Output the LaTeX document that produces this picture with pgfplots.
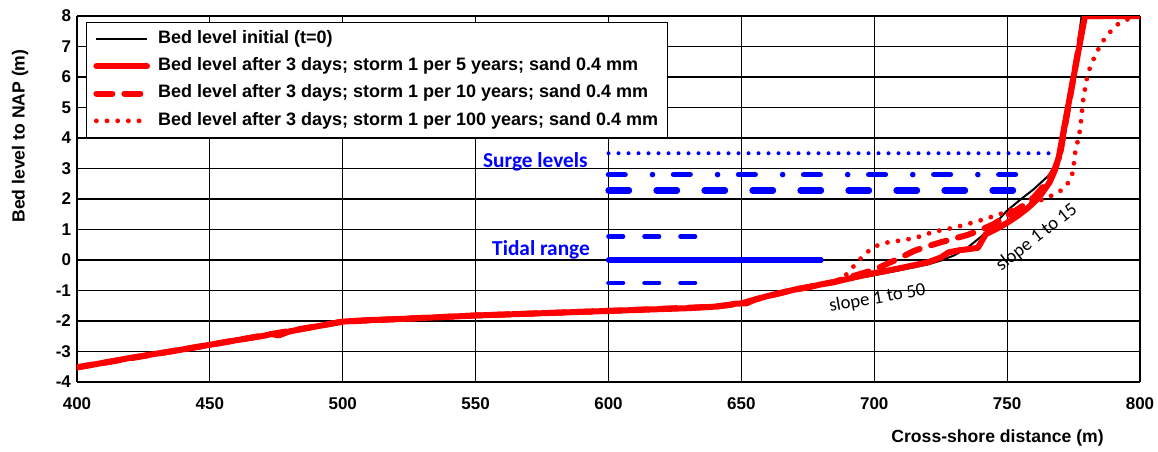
\documentclass[border=0pt]{standalone}
\usepackage{fontspec}
\setmainfont{Liberation Sans}
\newfontfamily\calibri{Carlito}
\usepackage{pgfplots}
\pgfplotsset{compat=1.18}
\definecolor{xlred}{RGB}{255,0,0}
\definecolor{xlblue}{RGB}{0,0,255}

% cross-shore bed profiles (x in m, bed level in m to NAP)
\pgfplotstableread{
x y
400 -3.52
410 -3.36
420 -3.20
430 -3.07
440 -2.92
450 -2.77
460 -2.62
470 -2.48
480 -2.33
490 -2.17
500 -2.02
510 -1.98
520 -1.94
530 -1.90
540 -1.86
550 -1.82
560 -1.79
570 -1.76
580 -1.73
590 -1.70
600 -1.67
610 -1.64
620 -1.61
630 -1.58
640 -1.54
645 -1.50
650 -1.42
655 -1.30
660 -1.15
665 -1.05
670 -0.97
680 -0.82
690 -0.66
700 -0.50
710 -0.33
720 -0.15
725 -0.02
730 0.15
735 0.40
740 0.75
745 1.15
750 1.62
755 1.98
760 2.32
765 2.72
768 3.00
770 3.30
772 4.20
774 5.40
776 6.60
778 8.00
800 8.00
}\initial

\pgfplotstableread{
x y
400 -3.52
410 -3.37
420 -3.21
430 -3.07
440 -2.93
450 -2.78
460 -2.63
470 -2.49
473 -2.43
476 -2.47
480 -2.34
490 -2.18
500 -2.02
510 -1.97
520 -1.94
530 -1.90
540 -1.86
550 -1.82
560 -1.79
570 -1.76
580 -1.73
590 -1.70
600 -1.67
610 -1.64
620 -1.61
630 -1.58
640 -1.53
645 -1.48
648 -1.43
652 -1.42
655 -1.30
660 -1.18
665 -1.08
670 -0.97
675 -0.90
680 -0.80
685 -0.72
690 -0.62
695 -0.52
700 -0.43
705 -0.35
710 -0.26
715 -0.17
720 -0.08
725 0.08
728 0.25
732 0.32
736 0.36
739 0.40
742 0.85
746 1.02
750 1.22
754 1.45
758 1.72
762 2.05
766 2.55
768 2.95
769.5 3.40
772 4.60
775 6.00
779.3 8.00
800 8.00
}\stormfive

\pgfplotstableread{
x y
400 -3.52
450 -2.78
500 -2.02
550 -1.82
600 -1.67
640 -1.53
650 -1.42
660 -1.18
670 -0.97
680 -0.80
685 -0.72
690 -0.58
695 -0.45
700 -0.32
705 -0.12
710 0.08
715 0.30
720 0.45
725 0.58
730 0.70
735 0.82
740 0.98
745 1.18
750 1.45
755 1.72
760 2.05
765 2.55
768 3.00
770 3.50
775 6.00
779 8.00
800 8.00
}\stormten

\pgfplotstableread{
x y
400 -3.52
450 -2.78
500 -2.02
550 -1.82
600 -1.67
640 -1.53
650 -1.42
660 -1.18
670 -0.97
680 -0.80
688 -0.62
691 -0.33
694 -0.03
697 0.24
701 0.47
705.6 0.59
710 0.64
714 0.70
718 0.79
722 0.92
730 1.06
738.5 1.26
746.6 1.48
754.8 1.75
763 1.97
768 2.16
771.2 2.33
774 2.65
775 3.00
775.3 3.40
777.2 4.15
777.8 4.56
778.7 5.32
780.3 6.09
781.8 6.45
783.7 6.81
785.9 7.16
788.7 7.47
791.8 7.74
795.6 7.90
800 8.00
}\stormhundred

\begin{document}
\begin{tikzpicture}
\begin{axis}[
  scale only axis,
  width=797.25pt, height=274.5pt,
  xmin=400, xmax=800, ymin=-4, ymax=8,
  xtick={400,450,...,800}, ytick={-4,-3,...,8},
  grid=major,
  major grid style={black, line width=0.9pt},
  axis x line*=bottom, axis y line*=left,
  axis line style={line width=2pt, -},
  major tick length=0pt,
  /pgf/number format/assume math mode=true,
  ticklabel style={font=\fontsize{12.75}{15}\selectfont\bfseries},
  xticklabel style={yshift=-8.5pt},
  yticklabel style={xshift=-1pt},
  every axis x label/.style={at={(axis description cs:0.866,-0.153)}, anchor=center,
    font=\fontsize{13.2}{15}\selectfont\bfseries},
  every axis y label/.style={at={(axis description cs:-0.0536,0.672)}, anchor=center, rotate=90,
    font=\fontsize{13.2}{15}\selectfont\bfseries},
  xlabel={Cross-shore distance (m)},
  ylabel={Bed level to NAP (m)},
  legend image code/.code={\draw[#1] (3pt,0pt) -- (41pt,0pt);},
  legend style={at={(axis description cs:0.0085,0.984)}, anchor=north west,
    draw=black, line width=1pt, fill=white,
    font=\fontsize{13.5}{16}\selectfont\bfseries,
    nodes={text height=10pt, text depth=3.5pt, inner ysep=3.5pt},
    inner xsep=5pt, inner ysep=2pt, row sep=0pt, column sep=4pt},
  legend cell align=left,
]
\coordinate (O) at (rel axis cs:0,0);

% water levels (not in legend)
\addplot[forget plot, xlblue, line width=3pt, line cap=round, dash pattern=on 0pt off 7.5pt]
  coordinates {(600,3.5) (768,3.5)};
\addplot[forget plot, xlblue, line width=4.2pt, line cap=round, dash pattern=on 12.4pt off 20.6pt on 0pt off 15.8pt]
  coordinates {(600,2.8) (763,2.8)};
\addplot[forget plot, xlblue, line width=4.7pt, line cap=round, dash pattern=on 15.4pt off 20.6pt]
  coordinates {(600,2.28) (758,2.28)};
\addplot[forget plot, xlblue, line width=3.4pt, line cap=round, dash pattern=on 10.9pt off 16.1pt]
  coordinates {(600,0.77) (633,0.77)};
\addplot[forget plot, xlblue, line width=4pt, line cap=round]
  coordinates {(600,0) (680,0)};
\addplot[forget plot, xlblue, line width=3.4pt, line cap=round, dash pattern=on 10.9pt off 16.1pt]
  coordinates {(600,-0.75) (633,-0.75)};

% bed profiles
\addplot[black, line width=1.5pt, line join=round] table {\initial};
\addlegendentry{Bed level initial (t=0)}
\addplot[xlred, line width=4.5pt, line join=round, line cap=round] table {\stormfive};
\addlegendentry{Bed level after 3 days; storm 1 per 5 years; sand 0.4 mm}
\addplot[xlred, line width=4.5pt, line join=round, line cap=round, dash pattern=on 12pt off 9pt] table {\stormten};
\addlegendentry{Bed level after 3 days; storm 1 per 10 years; sand 0.4 mm}
\addplot[xlred, line width=3.6pt, line join=round, line cap=round, dash pattern=on 0pt off 8pt] table {\stormhundred};
\addlegendentry{Bed level after 3 days; storm 1 per 100 years; sand 0.4 mm}

% annotations
\node[xlblue, font=\calibri\bfseries\fontsize{16}{18}\selectfont] at (axis cs:572.5,3.22) {Surge levels};
\node[xlblue, font=\calibri\bfseries\fontsize{16}{18}\selectfont] at (axis cs:574.6,0.33) {Tidal range};
\node[black, rotate=10, font=\calibri\fontsize{14}{16}\selectfont] at (axis cs:701.2,-1.26) {slope 1 to 50};
\node[black, rotate=38, font=\calibri\fontsize{14}{16}\selectfont] at (axis cs:761.1,0.74) {slope 1 to 15};
\end{axis}
\pgfresetboundingbox
\path[use as bounding box] ([xshift=-57.75pt,yshift=-52.5pt]O) rectangle ++(868.5pt,339pt);
\end{tikzpicture}
\end{document}
